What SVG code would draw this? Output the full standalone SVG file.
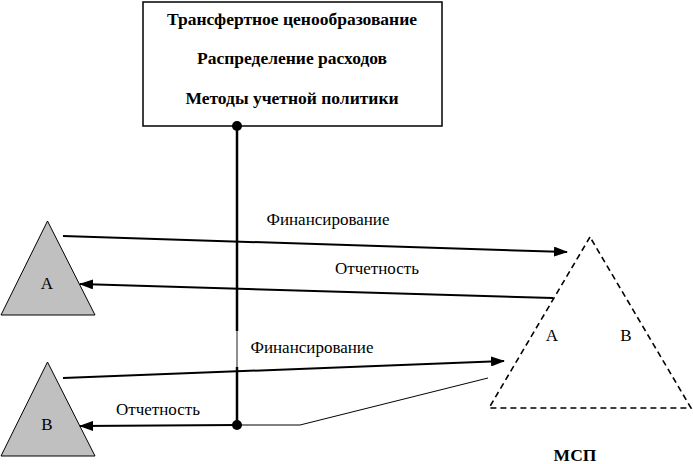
<svg xmlns="http://www.w3.org/2000/svg" width="693" height="464" viewBox="0 0 693 464">
<style>
.box{fill:#fff;stroke:#000;stroke-width:1.5}
.tb{font-family:'Liberation Serif','Times New Roman','DejaVu Serif',serif;font-weight:bold;font-size:17.5px;text-anchor:middle;fill:#000}
.t{font-family:'Liberation Serif','Times New Roman','DejaVu Serif',serif;font-size:17px;text-anchor:middle;fill:#000}
.tri{fill:#c0c0c0;stroke:#000;stroke-width:1}
.dash{fill:none;stroke:#000;stroke-width:1.6;stroke-dasharray:6 4}
.ln{fill:none;stroke:#000;stroke-width:2}
.thin{fill:none;stroke:#000;stroke-width:1}
</style>
<defs>
<marker id="ah" markerUnits="userSpaceOnUse" markerWidth="14" markerHeight="10" refX="13" refY="5" orient="auto">
<path d="M0,0 L14,5 L0,10 Z" fill="#000"/>
</marker>
</defs>
<rect width="693" height="464" fill="#fff"/>
<g id="policy">
<rect class="box" x="143" y="2" width="299" height="124"/>
<text class="tb" x="292" y="25">Трансфертное ценообразование</text>
<text class="tb" x="292" y="64">Распределение расходов</text>
<text class="tb" x="292" y="104">Методы учетной политики</text>
</g>
<g id="unitA">
<polygon class="tri" points="47.5,221 1,315 95,315"/>
<text class="t" x="47" y="289">A</text>
</g>
<g id="unitB">
<polygon class="tri" points="47.5,362 1,456 95,456"/>
<text class="t" x="47" y="430">B</text>
</g>
<g id="msp">
<polygon class="dash" points="590,237 489,408 691,408"/>
<text class="t" x="552" y="341">A</text>
<text class="t" x="626" y="341">B</text>
<text class="tb" x="575" y="461">МСП</text>
</g>
<g id="connectors">
<line x1="237" y1="126" x2="237" y2="331" stroke="#000" stroke-width="2.5"/>
<line x1="237" y1="331" x2="237" y2="367" stroke="#444" stroke-width="1.2"/>
<line x1="237" y1="367" x2="237" y2="425" stroke="#000" stroke-width="2.5"/>
<circle cx="237" cy="126" r="5" fill="#000"/>
<circle cx="237" cy="425" r="5" fill="#000"/>
<line class="ln" x1="63" y1="236" x2="567" y2="252" marker-end="url(#ah)"/>
<line class="ln" x1="553" y1="298" x2="80" y2="284" marker-end="url(#ah)"/>
<line class="ln" x1="63" y1="378" x2="504" y2="361" marker-end="url(#ah)"/>
<polyline class="thin" points="488,378 300,425 237,425"/>
<line class="ln" x1="237" y1="425" x2="80" y2="426" marker-end="url(#ah)"/>
<text class="t" x="328" y="225">Финансирование</text>
<text class="t" x="377" y="274">Отчетность</text>
<text class="t" x="312" y="353">Финансирование</text>
<text class="t" x="158" y="415">Отчетность</text>
</g>
</svg>
